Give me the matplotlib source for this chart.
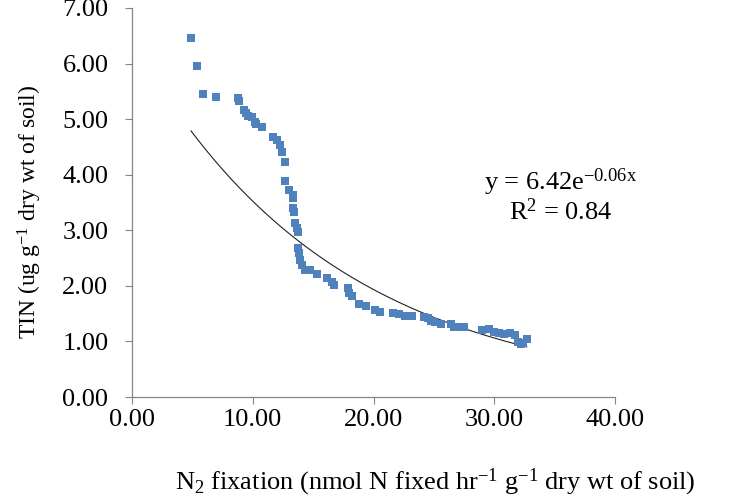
import numpy as np
import matplotlib.pyplot as plt

# N2 fixation (x) and TIN (y)
n2_fix = [4.89, 5.38, 5.88, 6.96, 8.78, 8.86, 9.28, 9.44, 9.61, 9.94, 10.19, 10.27, 10.77,
          11.68, 12.01, 12.26, 12.42, 12.67, 12.67, 13.0, 13.33, 13.33, 13.33, 13.42,
          13.5, 13.66, 13.75, 13.75, 13.83, 13.91, 14.08, 14.33, 14.74,
          15.32, 16.15, 16.56, 16.73, 17.89, 17.97, 18.22, 18.8, 19.38, 20.12,
          20.5, 21.6, 22.1, 22.6, 22.9, 23.2,
          24.2, 24.5, 24.8, 25.1, 25.6, 26.4, 26.7, 27.1, 27.5,
          29.0, 29.6, 30.0, 30.4, 30.8, 31.3, 31.7, 32.0, 32.2, 32.4, 32.7]
tin = [6.46, 5.95, 5.45, 5.40, 5.38, 5.32, 5.16, 5.11, 5.05, 5.04, 4.95, 4.91, 4.86,
       4.68, 4.62, 4.53, 4.41, 4.23, 3.88, 3.72, 3.63, 3.58, 3.40, 3.33,
       3.13, 3.04, 2.97, 2.68, 2.59, 2.46, 2.37, 2.28, 2.28,
       2.21, 2.14, 2.07, 2.01, 1.96, 1.87, 1.82, 1.67, 1.64, 1.56,
       1.53, 1.51, 1.49, 1.46, 1.46, 1.46,
       1.44, 1.42, 1.37, 1.35, 1.31, 1.31, 1.26, 1.26, 1.26,
       1.21, 1.22, 1.17, 1.15, 1.13, 1.15, 1.12, 0.99, 0.95, 0.97, 1.04]

# trendline as printed on the chart: y = 6.42 e^(-0.06x)
fit_a = 6.42
fit_b = -0.06

x_ticks = [0, 10, 20, 30, 40]
y_ticks = [0, 1, 2, 3, 4, 5, 6, 7]

x = np.array(n2_fix)
y = np.array(tin)
xs = np.linspace(x.min(), x.max(), 200)
ys = fit_a * np.exp(fit_b * xs)

plt.rcParams['font.family'] = ['Liberation Serif', 'DejaVu Serif']
plt.rcParams['mathtext.fontset'] = 'custom'
plt.rcParams['mathtext.rm'] = 'Liberation Serif'
plt.rcParams['mathtext.it'] = 'Liberation Serif:italic'

fig = plt.figure(figsize=(7.5, 5), dpi=100)
ax = fig.add_axes([132 / 750, 1 - 397 / 500, (615 - 132) / 750, (397 - 8) / 500])

ax.plot(xs, ys, color="#222222", lw=0.8, zorder=2)
ax.plot(x, y, "s", color="#4F81BD", markersize=5.2, markeredgewidth=0, zorder=3)

ax.set_xlim(0, 40)
ax.set_ylim(0, 7)
ax.set_xticks(x_ticks)
ax.set_yticks(y_ticks)
ax.set_xticklabels([f"{v:.2f}" for v in x_ticks], fontsize=19)
ax.set_yticklabels([f"{v:.2f}" for v in y_ticks], fontsize=19)

for side in ["top", "right"]:
    ax.spines[side].set_visible(False)
for side in ["left", "bottom"]:
    ax.spines[side].set_color("#868686")
    ax.spines[side].set_linewidth(0.9)
ax.tick_params(axis="x", direction="out", length=5, color="#868686", pad=4)
ax.tick_params(axis="y", direction="out", length=5, color="#868686", pad=12)

# equation + R^2 as one two-line label
ax.text(35.5, 3.62, "y = 6.42e$^{\\mathrm{-0.06x}}$\nR$^{\\mathrm{2}}$ = 0.84",
        fontsize=19, ha="center", va="center", multialignment="center", linespacing=1.0)

fig.text(30 / 750, 1 - 212 / 500, r"TIN (ug g$^{\mathrm{-1}}$ dry wt of soil)", rotation=90,
         fontsize=17, ha="center", va="center")
fig.text(435 / 750, 1 - 482 / 500,
         r"N$_{\mathrm{2}}$ fixation (nmol N fixed hr$^{\mathrm{-1}}$ g$^{\mathrm{-1}}$ dry wt of soil)",
         fontsize=19, ha="center", va="center")

fig.savefig("out.png", dpi=100)
